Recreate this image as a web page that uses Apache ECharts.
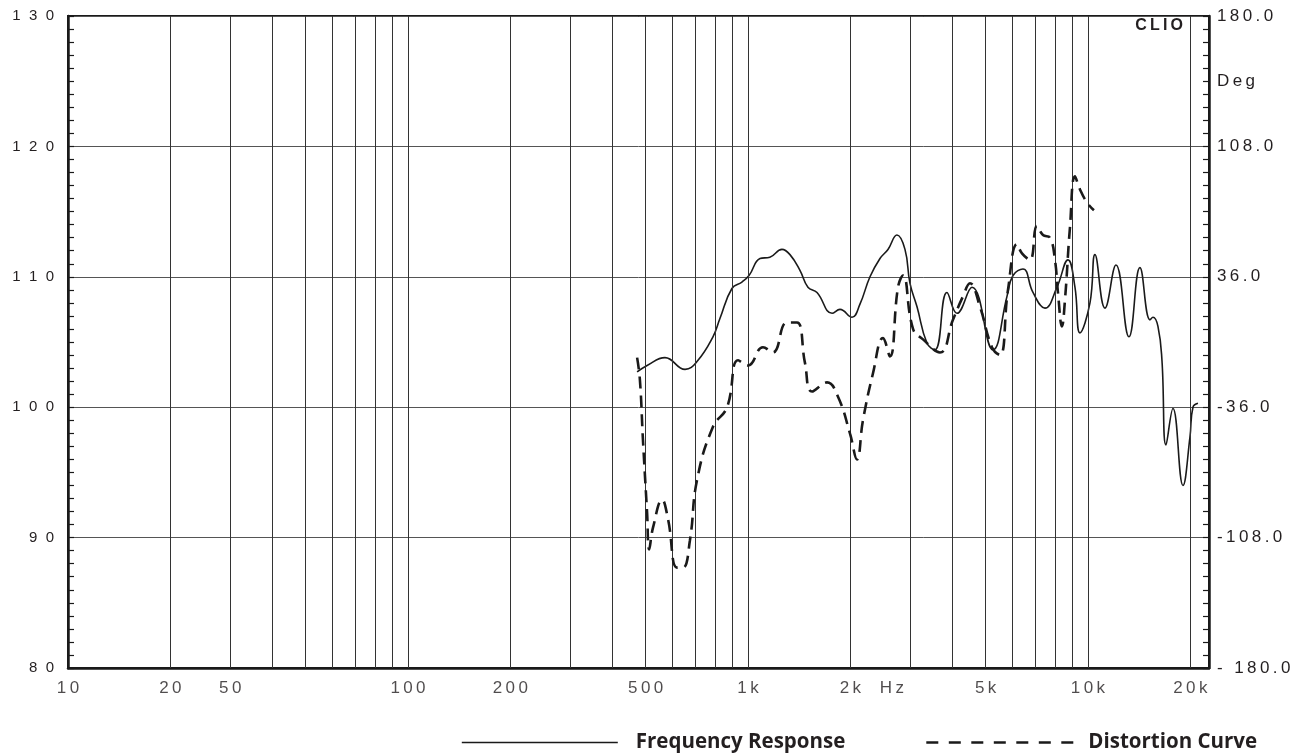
<!DOCTYPE html>
<html>
<head>
<meta charset="utf-8">
<script src="https://cdn.jsdelivr.net/npm/echarts@6.0.0/dist/echarts.min.js"></script>
<style>
  html, body { margin: 0; padding: 0; background: #fff; }
  #chart { width: 1302px; height: 755px; }
</style>
</head>
<body>
<div id="chart"></div>
<script>
// frequency response (solid)
const respHz = [472, 505, 570, 653, 708, 789, 827, 897, 960, 1007, 1085, 1160, 1259, 1329, 1422, 1501, 1596, 1767, 1865, 2023,
    2135, 2285, 2445, 2581, 2743, 2896, 2996, 3142, 3362, 3548, 3848, 4118, 4560, 5256, 5779, 6018, 6440, 6891, 7474, 8106,
    8733, 9157, 9473, 10137, 10486, 11220, 12089, 13200, 14218, 15221, 15532, 16066, 16506, 16960, 17783, 19033, 19953, 20362, 21063];
const respDb = [102.7, 103.2, 103.8, 102.9, 103.5, 105.4, 106.8, 109.1, 109.6, 110.1, 111.4, 111.5, 112.1, 111.7, 110.5, 109.2, 108.8, 107.2, 107.5, 106.9,
    107.9, 110.0, 111.4, 112.1, 113.2, 112.1, 109.5, 107.7, 104.9, 104.4, 108.8, 107.2, 109.2, 104.4, 108.5, 110.1, 110.6, 108.8, 107.6, 109.2,
    111.3, 109.2, 105.7, 108.0, 111.7, 107.6, 110.9, 105.4, 110.7, 106.7, 106.9, 106.2, 103.6, 97.1, 99.9, 94.0, 97.7, 100.0, 100.3];

// distortion curve (dashed)
const distHz = [472, 481, 491, 505, 512, 526, 559, 582, 618, 644, 675, 708, 789, 868, 935, 1000, 1107, 1184, 1302, 1394,
    1471, 1543, 1708, 1840, 1995, 2092, 2179, 2332, 2495, 2616, 2762, 2857, 3058, 3272, 3670, 4008, 4290, 4498, 4813, 5220,
    5511, 5818, 6184, 6397, 6753, 7079, 7373, 7731, 7996, 8161, 8385, 8557, 8853, 9157, 9473, 9933, 10413];
const distDb = [103.8, 102.1, 97.5, 91.9, 89.1, 90.8, 92.9, 91.4, 87.7, 87.7, 89.8, 94.4, 98.5, 100.0, 103.6, 103.2, 104.6, 104.2, 106.5, 106.5,
    103.4, 101.2, 101.9, 100.8, 98.0, 96.0, 99.0, 102.6, 105.3, 103.9, 109.2, 110.1, 106.0, 105.2, 104.2, 106.7, 108.5, 109.5, 107.7, 104.6,
    104.0, 109.0, 112.5, 111.8, 111.3, 113.9, 113.2, 113.0, 111.3, 108.8, 106.2, 108.2, 113.8, 117.7, 116.7, 115.7, 115.1];

// vertical grid lines
const gridFreqs = [20, 30, 40, 50, 60, 70, 80, 90, 100, 200, 300, 400, 500, 600, 700, 800, 900, 1000,
    2000, 3000, 4000, 5000, 6000, 7000, 8000, 9000, 10000, 20000];

// x tick labels (as printed on the original)
const xTickFreqs = [10, 20, 30, 100, 200, 500, 1000, 2000, 2650, 5000, 10000, 20000];
const xTickLabels = ['10', '20', '50', '100', '200', '500', '1k', '2k', 'Hz', '5k', '10k', '20k'];

// right axis labels
const phaseValues = [180, 144, 108, 36, -36, -108, -180];
const phaseLabels = ['180.0', 'Deg', '108.0', '36.0', '-36.0', '-108.0', '- 180.0'];

const ink = '#231f20';
const track = s => s.split('').join('\u2009');
const noDot = { color: 'rgba(0,0,0,0)', borderColor: 'rgba(0,0,0,0)', borderWidth: 0 };

const chart = echarts.init(document.getElementById('chart'));

const option = {
    animation: false,
    backgroundColor: '#fff',
    title: {
        text: track('CLIO'),
        right: 119,
        top: 18,
        padding: 0,
        textStyle: { fontFamily: 'Liberation Sans', fontWeight: 'bold', fontSize: 16, color: ink }
    },
    legend: [
        {
            data: ['Frequency Response'],
            left: 461,
            top: 732,
            padding: 0,
            itemWidth: 156,
            itemHeight: 22,
            itemStyle: noDot,
            lineStyle: { width: 1.6 },
            textStyle: { fontFamily: 'Open Sans', fontWeight: 'bold', fontSize: 20.5, color: ink, padding: [0, 0, 0, 13] }
        },
        {
            data: ['Distortion Curve'],
            left: 925,
            top: 732,
            padding: 0,
            itemWidth: 147,
            itemHeight: 22,
            itemStyle: noDot,
            lineStyle: { width: 2.6, type: [12, 10.5] },
            textStyle: { fontFamily: 'Open Sans', fontWeight: 'bold', fontSize: 20.5, color: ink, padding: [0, 0, 0, 10] }
        }
    ],
    grid: {
        left: 68,
        right: 93,
        top: 16,
        bottom: 87,
        outerBoundsMode: 'none',
        show: true,
        borderColor: '#1a1a1a',
        borderWidth: 2
    },
    xAxis: {
        type: 'log',
        logBase: 10,
        min: 10,
        max: 22700,
        axisLine: { show: true, onZero: false, lineStyle: { color: '#1a1a1a', width: 2.5 } },
        axisTick: { show: false },
        axisLabel: { show: false },
        splitLine: { show: false }
    },
    yAxis: [
        {
            type: 'value',
            min: 80,
            max: 130,
            interval: 10,
            position: 'left',
            axisLine: { show: true, lineStyle: { color: '#1a1a1a', width: 2.5 } },
            axisTick: { show: true, inside: true, length: 6, lineStyle: { color: '#1a1a1a', width: 1.2 } },
            minorTick: { show: true, splitNumber: 10, length: 6, lineStyle: { color: '#1a1a1a', width: 1.2 } },
            splitLine: { show: true, lineStyle: { color: '#555', width: 1 } },
            axisLabel: {
                margin: 14,
                fontFamily: 'Liberation Sans',
                fontSize: 15,
                color: ink,
                formatter: v => String(v).split('').join('  ')
            }
        },
        {
            type: 'value',
            min: -180,
            max: 180,
            interval: 36,
            position: 'right',
            axisLine: { show: true, lineStyle: { color: '#1a1a1a', width: 2.5 } },
            axisTick: { show: true, inside: true, length: 6, lineStyle: { color: '#1a1a1a', width: 1.2 } },
            minorTick: { show: true, splitNumber: 5, length: 6, lineStyle: { color: '#1a1a1a', width: 1.2 } },
            splitLine: { show: false },
            axisLabel: {
                margin: 8,
                fontFamily: 'Liberation Sans',
                fontSize: 17,
                color: ink,
                formatter: v => {
                    const i = phaseValues.indexOf(v);
                    return i < 0 ? '' : track(phaseLabels[i]);
                }
            }
        }
    ],
    series: [
        {
            name: 'Frequency Response',
            type: 'line',
            yAxisIndex: 0,
            showSymbol: false,
            symbol: 'none',
            smooth: 0.45,
            data: respHz.map((f, i) => [f, respDb[i]]),
            lineStyle: { color: '#1a1a1a', width: 1.6 },
            itemStyle: { color: '#1a1a1a' },
            z: 4,
            markLine: {
                silent: true,
                symbol: ['none', 'none'],
                label: { show: false },
                lineStyle: { color: '#333', width: 1, type: 'solid' },
                emphasis: { disabled: true },
                data: gridFreqs.map(f => ({ xAxis: f }))
            }
        },
        {
            name: 'Distortion Curve',
            type: 'line',
            yAxisIndex: 0,
            showSymbol: false,
            symbol: 'none',
            smooth: 0.45,
            data: distHz.map((f, i) => [f, distDb[i]]),
            lineStyle: { color: '#1a1a1a', width: 2.6, type: [12, 7] },
            itemStyle: { color: '#1a1a1a' },
            z: 5
        },
        {
            name: 'ticks',
            type: 'scatter',
            yAxisIndex: 0,
            symbolSize: 0,
            clip: false,
            silent: true,
            data: xTickFreqs.map((f, i) => [f, 80, xTickLabels[i]]),
            label: {
                show: true,
                position: 'bottom',
                distance: 12,
                fontFamily: 'Liberation Sans',
                fontSize: 17,
                color: ink,
                formatter: p => track(p.data[2])
            }
        }
    ]
};

chart.setOption(option);
window.addEventListener('resize', () => chart.resize());
</script>
</body>
</html>
